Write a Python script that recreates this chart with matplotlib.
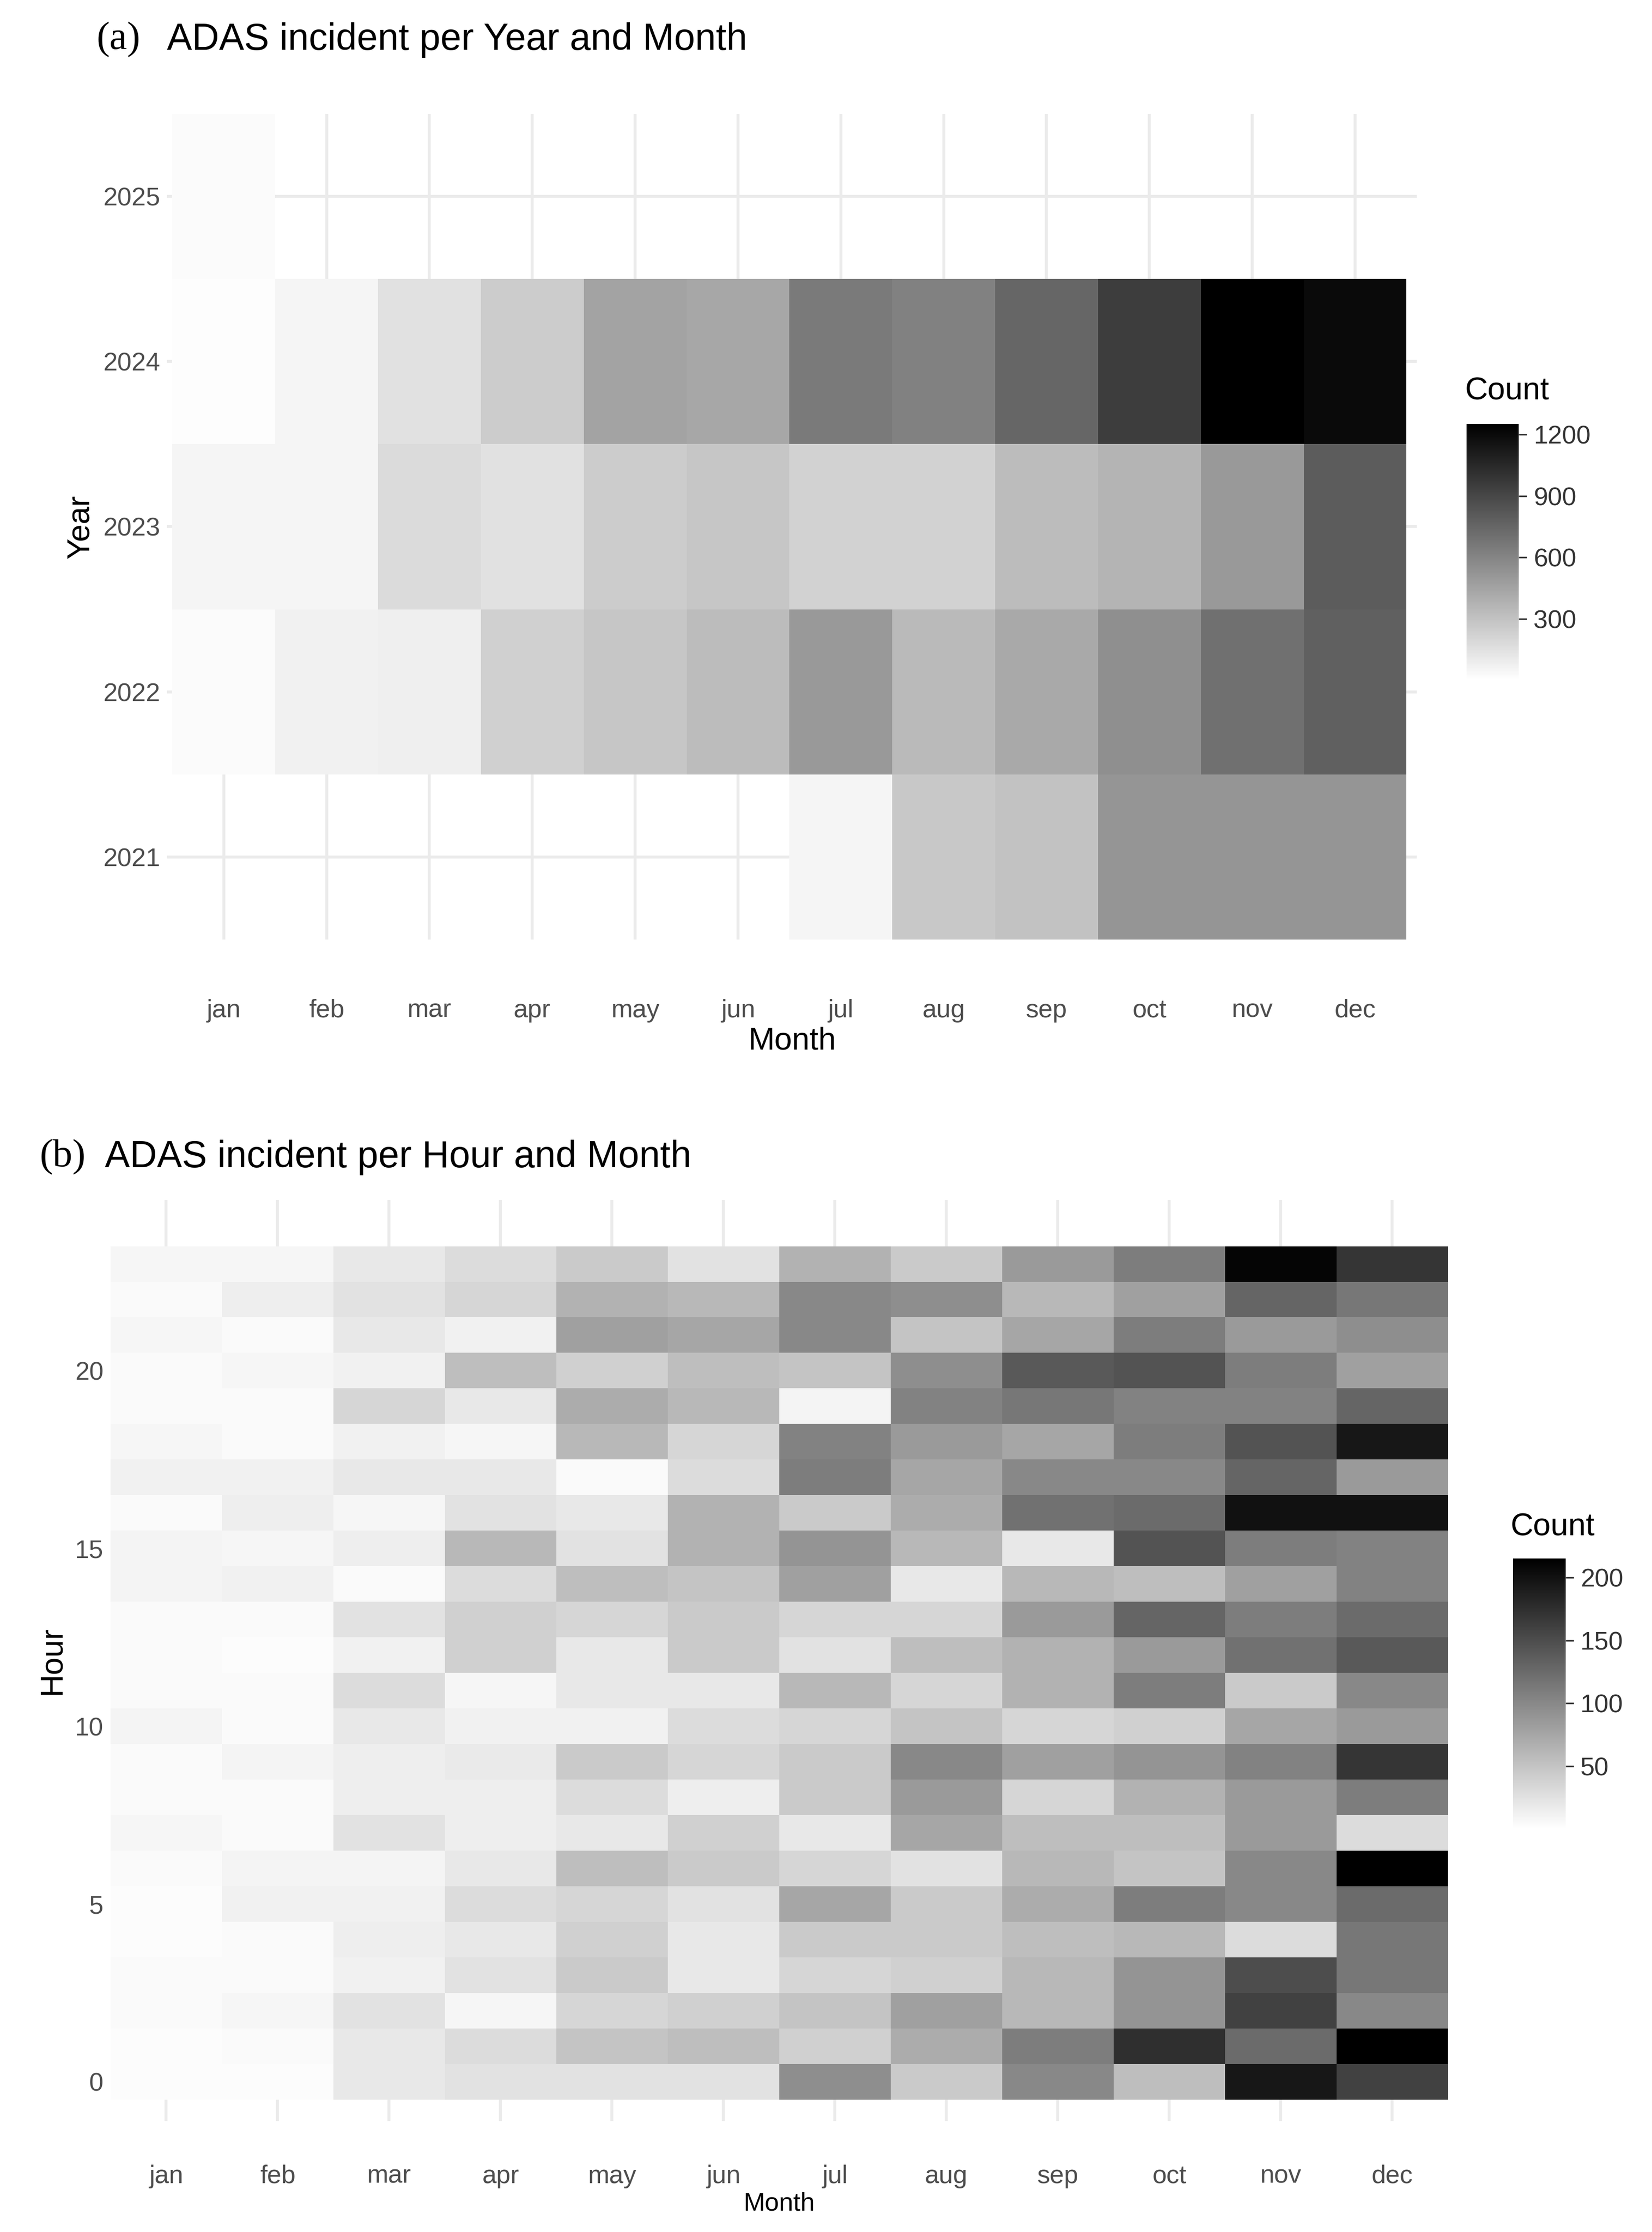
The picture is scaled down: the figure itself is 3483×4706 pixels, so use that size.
import numpy as np
import matplotlib
matplotlib.use("Agg")
import matplotlib.pyplot as plt
from matplotlib.colors import LinearSegmentedColormap

months = ["jan","feb","mar","apr","may","jun","jul","aug","sep","oct","nov","dec"]
years = [2021, 2022, 2023, 2024, 2025]
nan = np.nan
y2021 = [nan,nan,nan,nan,nan,nan,50,270,300,520,520,520]
y2022 = [20,70,80,230,280,330,500,340,420,550,700,780]
y2023 = [50,50,180,150,250,280,220,220,330,370,500,800]
y2024 = [10,50,150,250,450,430,650,620,750,950,1250,1200]
y2025 = [20,nan,nan,nan,nan,nan,nan,nan,nan,nan,nan,nan]

hour_rows_top_down = [
[8,8,20,30,45,25,65,45,85,110,210,170],
[5,15,25,35,65,60,100,95,60,80,130,115],
[8,5,20,12,80,75,100,50,75,110,85,95],
[5,8,12,55,40,55,50,95,140,145,110,80],
[5,5,35,20,70,60,10,105,115,105,105,130],
[8,5,12,8,60,35,105,85,75,110,145,195],
[12,12,20,20,5,30,110,75,100,100,130,85],
[5,15,8,25,20,65,45,70,120,125,200,200],
[10,8,15,60,25,65,90,60,20,145,110,105],
[10,12,5,30,55,50,80,20,60,55,80,105],
[5,5,25,40,35,45,35,35,85,130,110,125],
[5,3,12,40,20,45,25,55,65,85,120,140],
[5,5,30,8,20,20,60,35,65,110,45,100],
[10,5,20,12,12,30,35,50,35,40,75,85],
[5,10,15,18,45,35,45,100,80,90,105,170],
[5,5,15,15,30,15,45,85,35,65,85,110],
[8,5,25,15,20,40,20,75,55,55,85,30],
[5,10,10,20,55,45,35,25,60,50,100,215],
[3,12,12,30,35,25,75,45,70,110,100,125],
[3,5,15,20,40,20,45,45,55,60,30,115],
[5,5,12,25,45,20,35,40,60,90,150,115],
[5,8,25,8,35,40,50,80,60,90,160,100],
[3,5,20,30,50,55,40,70,110,175,125,215],
[3,3,20,25,25,25,95,45,100,55,195,160],
]

plt.rcParams['font.family'] = ['Liberation Sans', 'DejaVu Sans']
cmap = LinearSegmentedColormap.from_list("wb", ["#ffffff", "#000000"])
grid_c = "#ebebeb"
W, H = 3483/300, 4706/300
fig = plt.figure(figsize=(W, H), dpi=300)

def style(ax, pad):
    for s in ax.spines.values():
        s.set_visible(False)
    ax.tick_params(length=0, labelsize=13, colors="#4d4d4d")
    ax.tick_params(axis="x", pad=pad)
    ax.grid(True, color=grid_c, lw=1.5, zorder=0)
    ax.set_axisbelow(True)

# panel a
axa = fig.add_axes([118/1166, 1-660/1568, (1000-118)/1166, (660-80)/1568])
style(axa, 30)
A = np.ma.masked_invalid(np.array([y2021, y2022, y2023, y2024, y2025], float))
x = np.arange(len(months)); y = np.arange(len(years))
m = axa.pcolormesh(np.arange(13)-0.5, np.arange(6)-0.5, A, cmap=cmap, vmin=0, vmax=1250, zorder=2)
axa.set_xticks(x, months); axa.set_yticks(y, [str(v) for v in years])
axa.set_xlim(-0.55, 11.6); axa.set_ylim(-0.5, 4.5)
axa.set_xlabel("Month", fontsize=16, labelpad=2); axa.set_ylabel("Year", fontsize=16)
fig.text(68/1166, 1-28/1568, "(a)", fontsize=20, family="Liberation Serif", va="center")
fig.text(118/1166, 1-28/1568, "ADAS incident per Year and Month", fontsize=19, va="center")
ca = fig.add_axes([1035/1166, 1-478/1568, 37/1166, 180/1568])
cba = fig.colorbar(m, cax=ca, ticks=[300, 600, 900, 1200])
cba.outline.set_visible(False); ca.tick_params(labelsize=13, length=4, colors="#333333")
ca.set_ylim(0, 1250)
fig.text(1034/1166, 1-275/1568, "Count", fontsize=16, va="center")

# panel b
axb = fig.add_axes([78/1166, 1-1490/1568, (1022-78)/1166, (1490-843)/1568])
style(axb, 22)
B = np.array(hour_rows_top_down[::-1], float)
m2 = axb.pcolormesh(np.arange(13)-0.5, np.arange(25)-0.5, B, cmap=cmap, vmin=0, vmax=215, zorder=2)
axb.set_xticks(x, months); axb.set_yticks([0, 5, 10, 15, 20])
axb.set_xlim(-0.5, 11.5); axb.set_ylim(-1.1, 24.8)
axb.set_xlabel("Month", fontsize=13, labelpad=2); axb.set_ylabel("Hour", fontsize=16)
fig.text(28/1166, 1-813/1568, "(b)", fontsize=20, family="Liberation Serif", va="center")
fig.text(74/1166, 1-813/1568, "ADAS incident per Hour and Month", fontsize=19, va="center")
cb_ax = fig.add_axes([1068/1166, 1-1285/1568, 37/1166, 190/1568])
cbb = fig.colorbar(m2, cax=cb_ax, ticks=[50, 100, 150, 200])
cbb.outline.set_visible(False); cb_ax.tick_params(labelsize=13, length=4, colors="#333333")
fig.text(1066/1166, 1-1073/1568, "Count", fontsize=16, va="center")

fig.savefig("out.png", dpi=300, facecolor="white")
